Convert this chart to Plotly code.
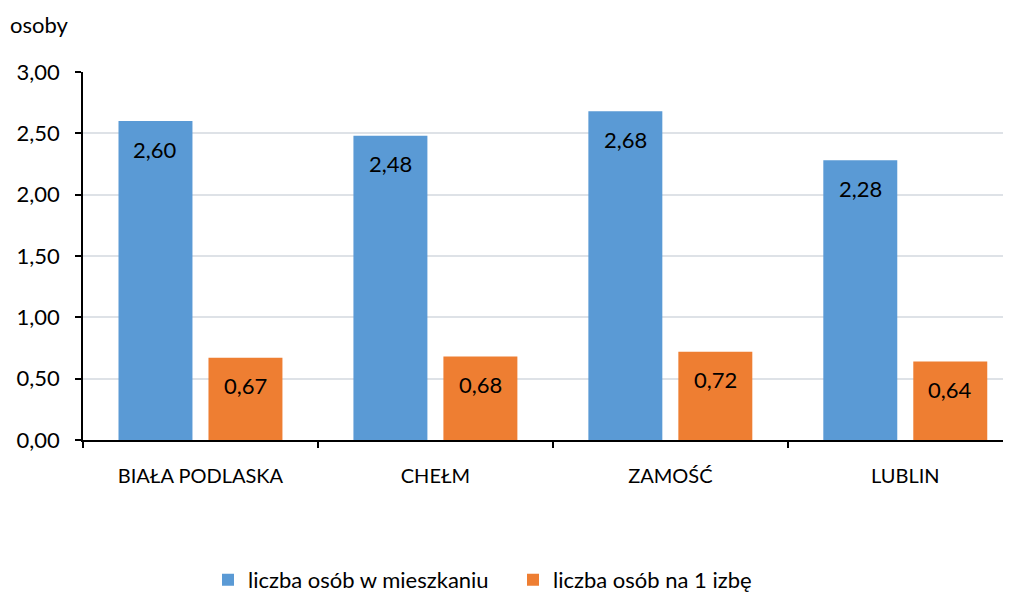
import plotly.graph_objects as go

categories = ["BIAŁA PODLASKA", "CHEŁM", "ZAMOŚĆ", "LUBLIN"]
series_names = ["liczba osób w mieszkaniu", "liczba osób na 1 izbę"]
persons_per_flat = [2.60, 2.48, 2.68, 2.28]
persons_per_room = [0.67, 0.68, 0.72, 0.64]
y_ticks = [0, 0.5, 1.0, 1.5, 2.0, 2.5, 3.0]

FONT = "Lato"
FS_CAT = 20
FS = 22
BLUE = "#5A9AD5"
ORANGE = "#EE7E32"

# page body has an 8px default margin; figure is sized to compensate
W, H = 1003, 584
ML, MT, PH = 75, 64, 368
PW = W - ML

fig = go.Figure()
fig.add_trace(go.Bar(x=categories, y=persons_per_flat, name=series_names[0],
                     marker=dict(color=BLUE, line=dict(width=0))))
fig.add_trace(go.Bar(x=categories, y=persons_per_room, name=series_names[1],
                     marker=dict(color=ORANGE, line=dict(width=0))))

def fmt(v):
    return f"{v:.2f}".replace(".", ",")

for vals, shift in ((persons_per_flat, -45), (persons_per_room, 45)):
    for c, v in zip(categories, vals):
        fig.add_annotation(x=c, y=v, xref="x", yref="y", text=fmt(v),
                           showarrow=False, xshift=shift, yshift=-28,
                           font=dict(family=FONT, size=FS, color="#000000"))

fig.add_annotation(x=(0 - ML) / PW, y=(PH + MT - 17) / PH, xref="paper", yref="paper",
                   text="osoby", showarrow=False, xanchor="left", yanchor="middle",
                   font=dict(family=FONT, size=FS, color="#000000"))

fig.update_layout(
    width=W, height=H,
    margin=dict(l=ML, r=0, t=MT, b=H - MT - PH, autoexpand=False),
    paper_bgcolor="white", plot_bgcolor="white",
    separators=", ",
    barmode="group", bargap=0.234, bargroupgap=0.178,
    font=dict(family=FONT, size=FS, color="#000000"),
    showlegend=True,
    legend=dict(orientation="h", x=(208 - 83) / PW, xanchor="left", y=-0.38,
                yanchor="middle", font=dict(family=FONT, size=FS),
                itemwidth=30, entrywidth=260, traceorder="normal"),
)
fig.update_xaxes(range=[-0.5, 3.45], showline=True, linecolor="#000000",
                 linewidth=1.5, ticks="outside", tickson="boundaries",
                 ticklen=6, tickwidth=1.5, tickcolor="#000000",
                 showgrid=False, ticklabelstandoff=17,
                 tickfont=dict(family=FONT, size=FS_CAT))
fig.update_yaxes(range=[0, 3], tickvals=y_ticks, tickformat=".2f",
                 showline=True, linecolor="#000000", linewidth=1.5,
                 ticks="outside", ticklen=6, tickwidth=1.5, tickcolor="#000000",
                 showgrid=True, gridcolor="#DEE2E7", gridwidth=1.5,
                 zeroline=False, ticklabelstandoff=11,
                 tickfont=dict(family=FONT, size=FS))

fig.write_html("out.html")
